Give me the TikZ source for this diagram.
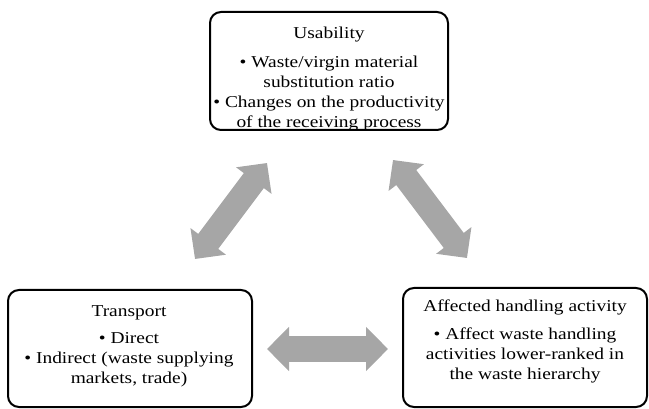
\documentclass[tikz,border=0pt]{standalone}
\usepackage{fontspec}
\setmainfont{Liberation Serif}[FakeStretch=1.17]
\usetikzlibrary{arrows.meta}
\definecolor{arrowgray}{HTML}{A6A6A6}
\begin{document}
\begin{tikzpicture}[x=1pt,y=-1pt,
  box/.style={draw, line width=2pt, rounded corners=11pt, inner sep=0pt},
  txt/.style={align=center, anchor=north, inner sep=0pt, font=\fontsize{16.6}{20}\selectfont},
  bigarrow/.style={draw=arrowgray, line width=25pt, {Triangle[width=43pt,length=22pt]}-{Triangle[width=43pt,length=22pt]}}]
\useasboundingbox (0,0) rectangle (649,409);
% boxes
\node[box, minimum width=238pt, minimum height=118pt] (use) at (329,71) {};
\node[box, minimum width=244pt, minimum height=117pt] (trans) at (130,348.5) {};
\node[box, minimum width=244pt, minimum height=119pt] (aff) at (525,347.5) {};
% texts
\node[txt] (usetxt) at (329,26.5) {Usability\\[9pt]• Waste/virgin material\\substitution ratio\\• Changes on the productivity\\of the receiving process};
\node[txt] (transtxt) at (129,305) {Transport\\[7pt]• Direct\\• Indirect (waste supplying\\markets, trade)};
\node[txt] (afftxt) at (525,299.5) {Affected handling activity\\[8pt]• Affect waste handling\\activities lower-ranked in\\the waste hierarchy};
% arrow end points
\coordinate (l1) at (195,259);
\coordinate (l2) at (267,163);
\coordinate (r1) at (393,160);
\coordinate (r2) at (467,258);
\coordinate (h1) at (267,349);
\coordinate (h2) at (388,349);
\draw[bigarrow] (l1) -- (l2);
\draw[bigarrow] (r1) -- (r2);
\draw[bigarrow] (h1) -- (h2);
\end{tikzpicture}
\end{document}
